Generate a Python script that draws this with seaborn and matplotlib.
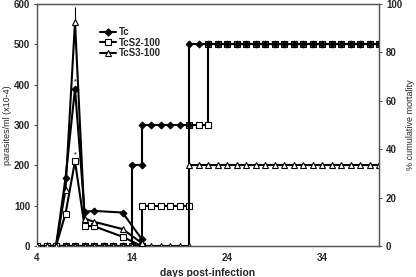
import matplotlib
matplotlib.use("Agg")
import matplotlib.pyplot as plt
import seaborn as sns
import pandas as pd
from matplotlib.lines import Line2D

sns.set_style("white")
plt.rcParams['font.family'] = ['Liberation Sans', 'DejaVu Sans']
plt.rcParams['font.weight'] = 'bold'

# parasitemia (left axis, parasites/ml x10-4)
days_p = [4, 5, 6, 7, 8, 9, 10, 13, 15]
tc_p = [0, 0, 0, 168, 390, 85, 87, 83, 18]
s2_p = [0, 0, 0, 80, 210, 50, 49, 23, 0]
s3_p = [0, 0, 0, 140, 555, 68, 60, 42, 8]

# cumulative mortality (right axis, %)
tc_m_days = [4, 5, 6, 7, 8, 9, 10, 11, 12, 13, 14, 14, 15, 15, 16, 17, 18, 19, 20, 20,
             21, 22, 23, 24, 25, 26, 27, 28, 29, 30, 31, 32, 33, 34, 35, 36, 37, 38, 39, 40]
tc_m = [0, 0, 0, 0, 0, 0, 0, 0, 0, 0, 0, 33.3, 33.3, 50, 50, 50, 50, 50, 50, 83.3,
        83.3, 83.3, 83.3, 83.3, 83.3, 83.3, 83.3, 83.3, 83.3, 83.3, 83.3, 83.3, 83.3, 83.3,
        83.3, 83.3, 83.3, 83.3, 83.3, 83.3]
s2_m_days = [4, 5, 6, 7, 8, 9, 10, 11, 12, 13, 14, 15, 15, 16, 17, 18, 19, 20, 20, 21, 22, 22,
             23, 24, 25, 26, 27, 28, 29, 30, 31, 32, 33, 34, 35, 36, 37, 38, 39, 40]
s2_m = [0, 0, 0, 0, 0, 0, 0, 0, 0, 0, 0, 0, 16.7, 16.7, 16.7, 16.7, 16.7, 16.7, 50, 50, 50, 83.3,
        83.3, 83.3, 83.3, 83.3, 83.3, 83.3, 83.3, 83.3, 83.3, 83.3, 83.3, 83.3, 83.3, 83.3,
        83.3, 83.3, 83.3, 83.3]
s3_m_days = [4, 5, 6, 7, 8, 9, 10, 11, 12, 13, 14, 15, 16, 17, 18, 19, 20, 20,
             21, 22, 23, 24, 25, 26, 27, 28, 29, 30, 31, 32, 33, 34, 35, 36, 37, 38, 39, 40]
s3_m = [0, 0, 0, 0, 0, 0, 0, 0, 0, 0, 0, 0, 0, 0, 0, 0, 0, 33.3,
        33.3, 33.3, 33.3, 33.3, 33.3, 33.3, 33.3, 33.3, 33.3, 33.3, 33.3, 33.3, 33.3, 33.3,
        33.3, 33.3, 33.3, 33.3, 33.3, 33.3]

labels = ["Tc", "TcS2-100", "TcS3-100"]
x_ticks = [4, 14, 24, 34]

fig = plt.figure(figsize=(4.16, 2.77), dpi=100)
ax = fig.add_axes([37/416, 1-246/277, 342/416, 242/277])
ax2 = ax.twinx()

styles = {
    "Tc": dict(marker="D", markerfacecolor="black", markeredgecolor="black", markersize=3.5),
    "TcS2-100": dict(marker="s", markerfacecolor="white", markeredgecolor="black", markersize=4, markeredgewidth=0.8),
    "TcS3-100": dict(marker="^", markerfacecolor="white", markeredgecolor="black", markersize=4.5, markeredgewidth=0.8),
}

def draw(a, x, y, key, z):
    sns.lineplot(x=x, y=y, ax=a, estimator=None, sort=False, color="black",
                 linewidth=1.5, zorder=z, **styles[key])

# mortality on right axis
draw(ax2, s2_m_days, s2_m, "TcS2-100", 3)
draw(ax2, tc_m_days, tc_m, "Tc", 4)
draw(ax2, s3_m_days, s3_m, "TcS3-100", 5)

# parasitemia on left axis
draw(ax, days_p, tc_p, "Tc", 3)
draw(ax, days_p, s2_p, "TcS2-100", 4)
draw(ax, days_p, s3_p, "TcS3-100", 5)
ax.vlines(days_p[4], s3_p[4], s3_p[4] + 38, color="black", linewidth=0.8, zorder=2)
ax.text(days_p[4], tc_p[4] + 8, "*", ha="center", va="bottom", fontsize=5, color="#444")
ax.text(days_p[4], s2_p[4] + 8, "*", ha="center", va="bottom", fontsize=5, color="#444")

ax.set_zorder(ax2.get_zorder() + 1)
ax.patch.set_visible(False)

ax.set_xlim(4, 40)
ax.set_ylim(0, 600)
ax2.set_ylim(0, 100)
ax.set_xticks(x_ticks)
ax.set_yticks([0, 100, 200, 300, 400, 500, 600])
ax2.set_yticks([0, 20, 40, 60, 80, 100])
for a in (ax, ax2):
    a.tick_params(labelsize=7, length=2, width=0.6, pad=3)
    for lab in a.get_xticklabels() + a.get_yticklabels():
        lab.set_fontweight("bold")
    for s in a.spines.values():
        s.set_color("#555555")
        s.set_linewidth(0.9)
ax.tick_params(axis="x", direction="in", pad=5)

ax.set_xlabel("days post-infection", fontsize=7.5, fontweight="bold", labelpad=4)
ax.set_ylabel("parasites/ml (x10-4)", fontsize=6.5, labelpad=1)
ax2.set_ylabel("% cumulative mortality", fontsize=6.5, labelpad=3)

handles = [Line2D([], [], color="black", linewidth=1.5, **styles[k]) for k in labels]
ax.legend(handles, labels, loc="upper left", bbox_to_anchor=(0.16, 0.94), frameon=False,
          fontsize=7, handlelength=1.6, handletextpad=0.3, labelspacing=0.05,
          prop={"weight": "bold", "size": 7})

fig.savefig("out.png", dpi=100)
